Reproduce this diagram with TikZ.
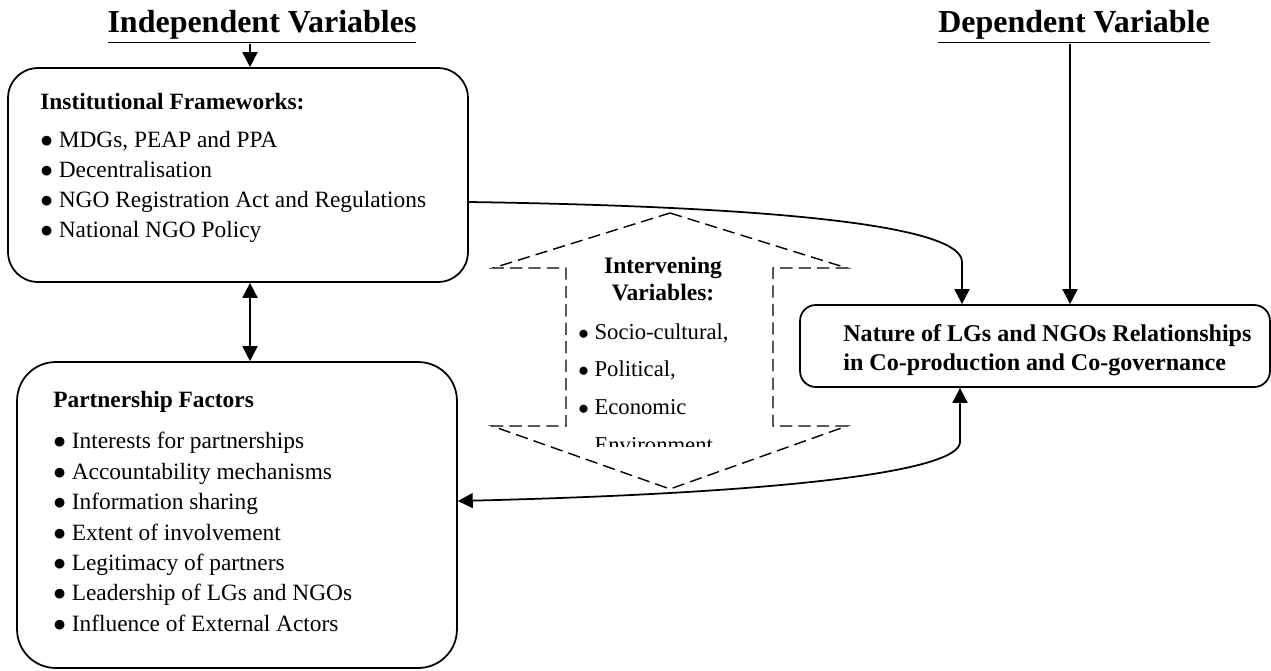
\documentclass[tikz,border=0pt]{standalone}
\usepackage{fontspec}
\setmainfont{Liberation Serif}
\usetikzlibrary{arrows.meta, positioning}
\tikzset{
>={Triangle[length=8.5pt,width=8.5pt]}, % bold filled arrow heads
link/.style={->, line width=1pt}, % solid connectors
box/.style={draw, line width=1pt, inner sep=0pt}, % the rounded frames
title/.style={font=\fontsize{18.2}{20}\selectfont\bfseries, inner sep=0.5pt},
head/.style={font=\fontsize{13.3}{15}\selectfont\bfseries, anchor=west, inner sep=0pt},
items/.style={font=\fontsize{13.3}{17}\selectfont, align=left, anchor=north west, inner sep=0pt},
}

\begin{document}
\begin{tikzpicture}[x=0.02cm, y=-0.02cm]
  \useasboundingbox (0,0) rectangle (1271,670);

  % titles
  \node[title] (iv) at (262,27) {\underline{Independent Variables}};
  \node[title] (dv) at (1074,27) {\underline{Dependent Variable}};
  \coordinate (ivx) at (250,0);
  \coordinate (dvx) at (1070,0);

  % boxes
  \node[box, rounded corners=17pt, minimum width=9.2cm, minimum height=4.28cm] (fw) at (238,175) {};
  \node[box, rounded corners=22pt, minimum width=8.8cm, minimum height=6.12cm] (pf) at (237,515) {};
  \node[box, rounded corners=9pt, minimum width=9.4cm, minimum height=1.64cm] (nr) at (1035,346) {};

  % box texts
  \node[head] (fwh) at (40,102) {Institutional Frameworks:};
  \node[items] (fwl) at (40,131) {$\bullet$ MDGs, PEAP and PPA\\
    $\bullet$ Decentralisation\\
    $\bullet$ NGO Registration Act and Regulations\\
    $\bullet$ National NGO Policy};
  \node[head] (pfh) at (53,402) {Partnership Factors};
  \node[items, font=\fontsize{13.3}{17.3}\selectfont] (pfl) at (53,432) {$\bullet$ Interests for partnerships\\
    $\bullet$ Accountability mechanisms\\
    $\bullet$ Information sharing\\
    $\bullet$ Extent of involvement\\
    $\bullet$ Legitimacy of partners\\
    $\bullet$ Leadership of LGs and NGOs\\
    $\bullet$ Influence of External Actors};
  \node[head, align=left, font=\fontsize{13.7}{16.4}\selectfont\bfseries] (nrt) at (843,350)
    {Nature of LGs and NGOs Relationships\\in Co-production and Co-governance};

  % intervening variables
  \draw[dashed, dash pattern=on 7pt off 3.5pt, line width=0.8pt]
    (670,213) -- (847,268) -- (773,268) -- (773,426) -- (847,426) -- (670,489)
    -- (492,426) -- (566,426) -- (566,268) -- (493,268) -- cycle;
  \node[font=\fontsize{13.4}{15.3}\selectfont\bfseries, align=center] (ivh) at (663,279) {Intervening\\Variables:};
  \begin{scope}
    \clip (570,300) rectangle (770,446);
    \node[items, font=\fontsize{12.9}{21.5}\selectfont] (ivl) at (578,323) {$\bullet$ Socio-cultural,\\
      $\bullet$ Political,\\
      $\bullet$ Economic\\
      \hphantom{$\bullet$ }Environment};
  \end{scope}

  % connectors
  \draw[link] (iv.south -| ivx) -- (fw.north -| ivx);
  \draw[link] (dv.south -| dvx) -- (nr.north -| dvx);
  \draw[link, <->] (fw.south -| ivx) -- (pf.north -| ivx);
  \draw[link] (fw.east |- 0,202) .. controls (800,207) and (962,228) .. (962,262) -- (nr.north -| 962,0);
  \draw[link, <->] (nr.south -| 960,0) -- (960,442) .. controls (960,468) and (820,492) .. (pf.east |- 0,501);
\end{tikzpicture}
\end{document}
